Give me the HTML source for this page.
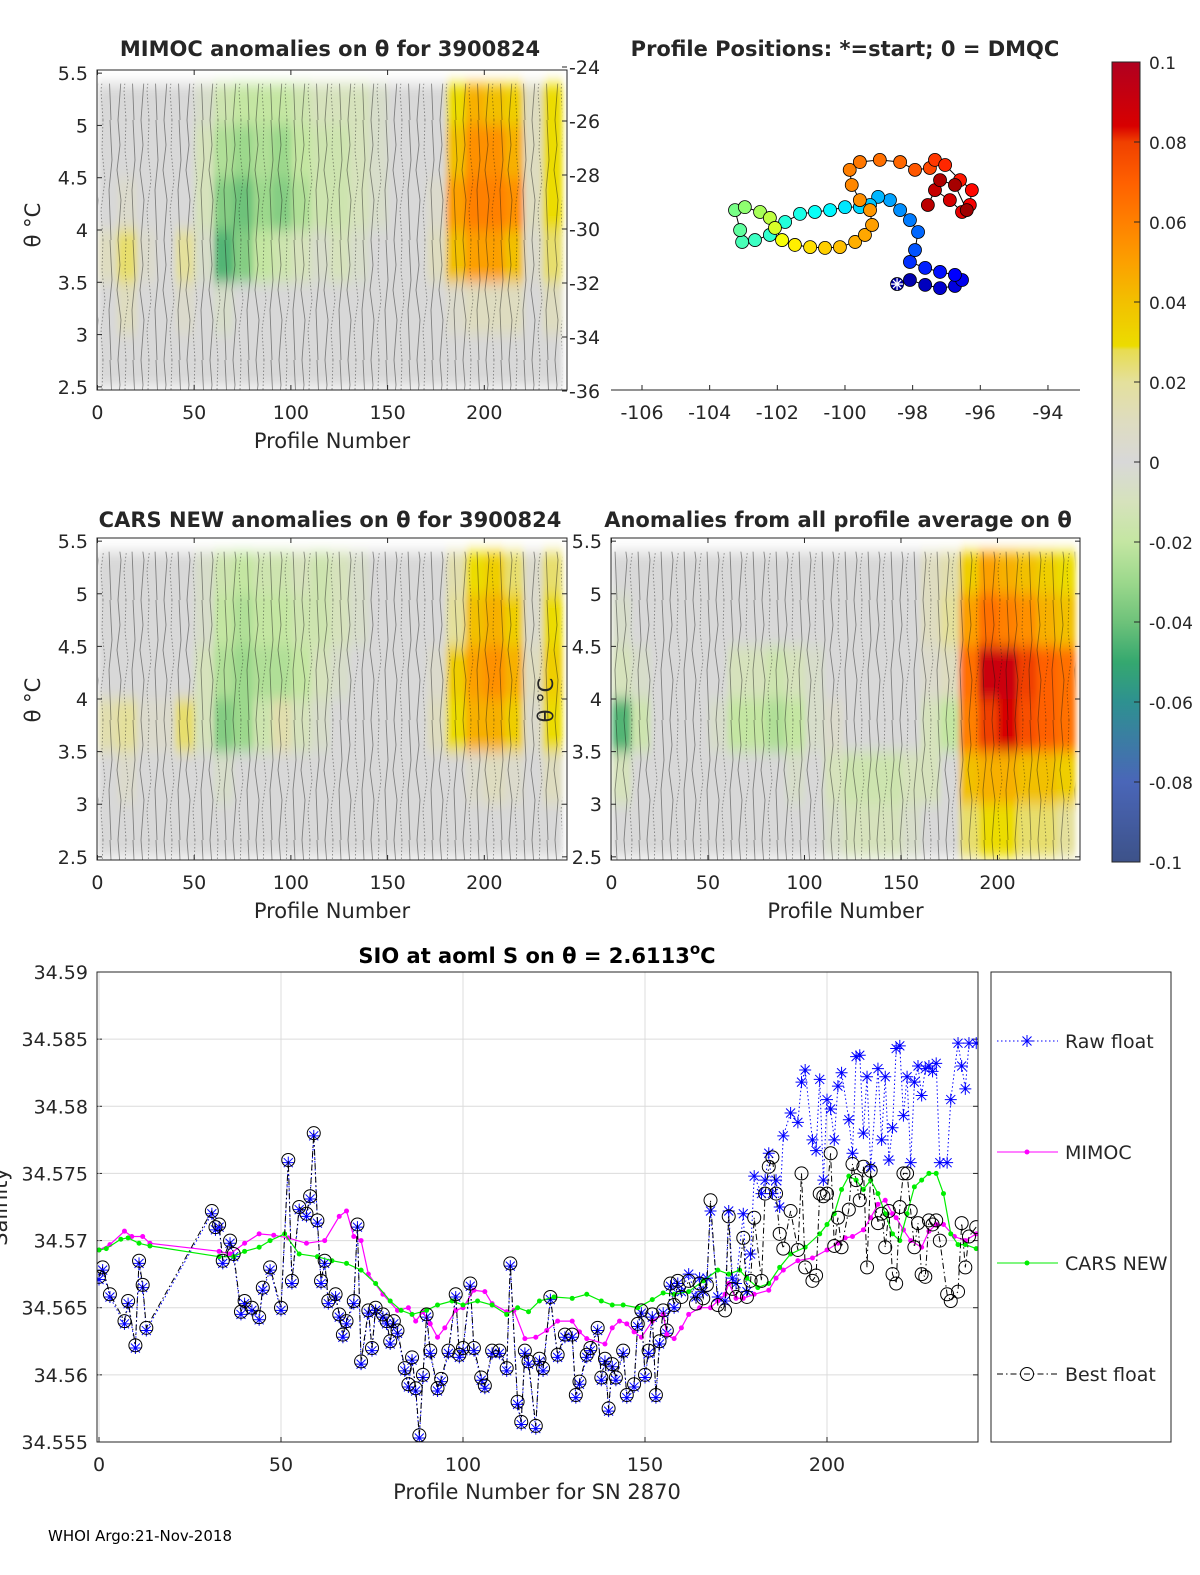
<!DOCTYPE html>
<html><head><meta charset="utf-8"><style>
html,body{margin:0;padding:0;background:#fff;}
svg{display:block;font-family:"DejaVu Sans","Liberation Sans",sans-serif;}
</style></head><body>
<svg id="fig" width="1200" height="1575" viewBox="0 0 1200 1575" xmlns="http://www.w3.org/2000/svg">
<defs>
<clipPath id="cp1"><rect x="97" y="70" width="470" height="320"/></clipPath>
<clipPath id="cp2"><rect x="97" y="538" width="470" height="322"/></clipPath>
<clipPath id="cp3"><rect x="611" y="538" width="469" height="322"/></clipPath>
<clipPath id="cp4"><rect x="97" y="972" width="881" height="470"/></clipPath>
<filter id="soft" x="-5%" y="-5%" width="110%" height="110%"><feGaussianBlur stdDeviation="3 7"/></filter>
<pattern id="contours" width="23" height="120" patternUnits="userSpaceOnUse">
<path d="M3,0 L5,25 L2,50 L6,80 L3,120" fill="none" stroke="#111" stroke-width="0.9"/>
<path d="M11,0 L10,30 L13,60 L9,90 L11,120" fill="none" stroke="#111" stroke-width="0.9" stroke-dasharray="1.5 2"/>
<path d="M18,0 L20,40 L17,70 L19,120" fill="none" stroke="#111" stroke-width="0.9"/>
</pattern>
<linearGradient id="cbar" x1="0" y1="1" x2="0" y2="0">
<stop offset="0" stop-color="#3d5289"/><stop offset="0.1" stop-color="#4a66b8"/><stop offset="0.2" stop-color="#2e9190"/><stop offset="0.25" stop-color="#35a86f"/><stop offset="0.3" stop-color="#6ec27a"/><stop offset="0.35" stop-color="#9cd88c"/><stop offset="0.4" stop-color="#c4e6a2"/><stop offset="0.45" stop-color="#d6e2bc"/><stop offset="0.5" stop-color="#d8d8d8"/><stop offset="0.55" stop-color="#dedcc0"/><stop offset="0.6" stop-color="#e4e09c"/><stop offset="0.64" stop-color="#e8dc50"/><stop offset="0.645" stop-color="#ecdc00"/><stop offset="0.7" stop-color="#f2c000"/><stop offset="0.75" stop-color="#fca000"/><stop offset="0.8" stop-color="#ff8000"/><stop offset="0.85" stop-color="#ff6000"/><stop offset="0.9" stop-color="#f04000"/><stop offset="0.92" stop-color="#d80000"/><stop offset="1" stop-color="#b00020"/>
</linearGradient>
</defs>
<g id="root"></g>
<text x="48" y="1541" font-size="15" fill="#000">WHOI Argo:21-Nov-2018</text>
</svg>
<script>
const heatProfileEdges = [0,10,20,30,40,50,60,70,80,90,100,110,120,130,140,150,160,170,180,190,200,210,220,230,240];
const heatThetaEdges = [5.4,5.0,4.5,4.0,3.5,3.0,2.5];
const mimocAnom = [
[0,0,0,0,0,-0.005,-0.015,-0.02,-0.02,-0.02,-0.015,-0.01,-0.01,-0.01,-0.005,0,0,0,0.03,0.045,0.04,0.035,0.01,0.03],
[0,0,0,0,0,-0.01,-0.025,-0.03,-0.025,-0.03,-0.02,-0.015,-0.015,-0.01,-0.005,0,0,0,0.04,0.055,0.055,0.045,0.01,0.03],
[0,0.005,0,0,0,-0.01,-0.035,-0.04,-0.03,-0.035,-0.025,-0.015,-0.015,-0.01,-0.005,0,0,0.005,0.05,0.06,0.06,0.055,0.01,0.03],
[0.01,0.025,0.005,0,0.02,-0.005,-0.045,-0.035,-0.02,-0.015,-0.01,-0.005,-0.01,-0.005,0,0,0,0.01,0.04,0.05,0.05,0.04,0.005,0.025],
[0,0.01,0,0,0.005,0,-0.005,0,0,0,0,0,0,0,0,0,0,0,0.005,0.01,0.01,0.01,0,0.01],
[0,0,0,0,0,0,0,0,0,0,0,0,0,0,0,0,0,0,0,0,0,0,0,0]];
const carsAnom = [
[0,0,0,0,0,-0.005,-0.015,-0.02,-0.015,-0.015,-0.01,-0.015,-0.01,-0.005,0,0,0,0,0.015,0.03,0.035,0.025,0.005,0.025],
[0,0,0,0,0,-0.005,-0.02,-0.025,-0.02,-0.02,-0.015,-0.015,-0.01,-0.005,0,0,0,0,0.02,0.04,0.045,0.035,0.005,0.03],
[0,0,0,0,0,-0.01,-0.025,-0.03,-0.025,-0.025,-0.02,-0.01,-0.005,0,0,0,0,0.005,0.035,0.05,0.055,0.045,0.01,0.035],
[0.015,0.02,0.005,0.005,0.025,-0.01,-0.035,-0.03,-0.015,0.015,-0.01,-0.005,0,0,0,0,0,0.01,0.03,0.045,0.045,0.035,0.005,0.03],
[0,0.005,0,0,0,0,-0.005,0,0,0,0,0,0,0,0,0,0,0,0,0.005,0.01,0.005,0,0.01],
[0,0,0,0,0,0,0,0,0,0,0,0,0,0,0,0,0,0,0,0,0,0,0,0]];
const allAvgAnom = [
[0,0,0,0,0,0,0,0,0,0,0,0,0,0,0,0,0.01,0.015,0.035,0.05,0.045,0.04,0.035,0.03],
[-0.005,0,0,0,0,0,0,0,0,0,0,0,0,0,0,0,0.01,0.02,0.05,0.065,0.06,0.055,0.045,0.04],
[-0.01,-0.005,0,0,0,0,-0.01,-0.01,-0.015,-0.01,-0.005,0,0,0,0,0,0.005,0.01,0.065,0.09,0.09,0.08,0.07,0.065],
[-0.045,-0.015,0,0,0,-0.005,-0.02,-0.02,-0.025,-0.02,-0.005,0.005,0,0,0,0,-0.01,-0.02,0.06,0.08,0.085,0.075,0.07,0.065],
[-0.01,0,0,0,0,0,0,0,0,-0.005,0,-0.01,-0.015,-0.015,-0.015,-0.01,-0.01,0,0.04,0.045,0.045,0.04,0.04,0.035],
[0,0,0,0,0,0,0,0,0,0,0,-0.005,-0.01,-0.01,-0.01,-0.005,0,0,0.025,0.03,0.03,0.025,0.025,0.02]];

const trackLon = [-98.46,-98.08,-97.63,-97.19,-96.75,-96.54,-96.75,-97.19,-97.63,-98.08,-97.93,-97.84,-98.08,-98.37,-98.67,-99.02,-99.26,-99.56,-100.0,-100.44,-100.89,-101.33,-101.77,-102.22,-102.66,-103.04,-103.10,-103.25,-102.96,-102.51,-102.22,-102.07,-101.86,-101.48,-101.03,-100.59,-100.15,-99.70,-99.41,-99.20,-99.26,-99.56,-99.80,-99.86,-99.56,-98.97,-98.37,-97.93,-97.49,-97.34,-97.04,-96.60,-96.25,-96.31,-96.54,-96.90,-97.34,-97.55,-97.19,-96.75,-96.40];
const trackLat = [-32.04,-31.89,-32.07,-32.19,-32.11,-31.89,-31.70,-31.59,-31.44,-31.22,-30.78,-30.11,-29.67,-29.30,-28.93,-28.81,-29.11,-29.19,-29.19,-29.30,-29.37,-29.44,-29.74,-30.22,-30.41,-30.48,-30.04,-29.30,-29.19,-29.37,-29.59,-29.96,-30.41,-30.59,-30.67,-30.70,-30.67,-30.48,-30.22,-29.85,-29.30,-28.93,-28.37,-27.81,-27.52,-27.44,-27.52,-27.81,-27.74,-27.44,-27.63,-28.19,-28.56,-29.11,-29.37,-28.93,-28.56,-29.11,-28.19,-28.37,-29.30];
const trackProfile = [0,4,8,12,16,20,24,28,32,36,45,50,55,60,65,70,74,78,82,86,90,94,97,100,103,106,112,118,124,130,136,142,150,156,160,164,168,172,174,176,178,180,182,184,186,188,190,194,198,202,206,210,214,218,222,226,230,233,236,238,240];

const profiles = [0,1,3,7,8,10,11,12,13,31,32,33,34,36,37,39,40,42,44,45,47,50,52,53,55,57,58,59,60,61,62,63,65,66,67,68,70,71,72,74,75,76,78,79,80,81,82,84,85,86,87,88,89,90,91,93,94,96,98,99,100,102,103,105,106,108,110,112,113,115,116,117,118,120,121,122,124,126,128,130,131,132,134,135,137,138,139,140,141,142,144,145,147,148,149,150,151,152,153,154,155,156,157,158,159,160,162,164,165,166,167,168,170,172,173,174,175,177,178,179,180,182,183,184,185,186,187,188,190,192,193,194,196,197,198,199,200,201,202,203,204,206,207,208,209,210,211,212,214,215,216,217,218,219,220,221,222,223,224,225,226,227,228,229,230,231,233,234,236,237,238,239,241];
const bestFloat = [34.5673,34.568,34.566,34.564,34.5655,34.5622,34.5685,34.5667,34.5635,34.5722,34.571,34.5712,34.5685,34.570,34.569,34.5647,34.5655,34.565,34.5643,34.5665,34.568,34.565,34.576,34.567,34.5725,34.572,34.5733,34.578,34.5715,34.567,34.5685,34.5655,34.566,34.5645,34.563,34.564,34.5655,34.5712,34.561,34.5648,34.562,34.565,34.5645,34.564,34.5625,34.564,34.5633,34.5605,34.5593,34.5613,34.559,34.5555,34.560,34.5645,34.5618,34.559,34.5597,34.5618,34.566,34.5615,34.562,34.5668,34.562,34.5598,34.5592,34.5618,34.5618,34.5605,34.5683,34.558,34.5565,34.5618,34.561,34.5562,34.5612,34.5605,34.5658,34.5615,34.563,34.563,34.5585,34.5595,34.5615,34.562,34.5635,34.5598,34.5612,34.5575,34.5608,34.5598,34.5618,34.5585,34.5593,34.5638,34.5648,34.560,34.5618,34.5645,34.5585,34.5625,34.5648,34.5633,34.5668,34.5652,34.567,34.5658,34.567,34.5653,34.5668,34.5657,34.5667,34.573,34.5652,34.5648,34.5718,34.5664,34.5658,34.5702,34.5658,34.567,34.5717,34.567,34.5735,34.5755,34.5762,34.5735,34.5705,34.5694,34.5722,34.5693,34.575,34.568,34.567,34.5674,34.5735,34.5733,34.5735,34.5765,34.5696,34.5717,34.5695,34.5723,34.5757,34.5745,34.5730,34.5755,34.5680,34.5752,34.5713,34.5720,34.5695,34.5722,34.5675,34.5668,34.5725,34.5750,34.5750,34.5722,34.5695,34.5713,34.5675,34.5673,34.5715,34.5712,34.5715,34.5700,34.5660,34.5655,34.5662,34.5713,34.5680,34.5703,34.5710];
const rawFloat = [34.5671,34.5678,34.5658,34.5638,34.5653,34.562,34.5683,34.5665,34.5633,34.572,34.5708,34.571,34.5683,34.5698,34.5688,34.5645,34.5653,34.5648,34.5641,34.5663,34.5678,34.5648,34.5758,34.5668,34.5723,34.5718,34.5731,34.5778,34.5713,34.5668,34.5683,34.5653,34.5658,34.5643,34.5628,34.5638,34.5653,34.571,34.5608,34.5646,34.5618,34.5648,34.5643,34.5638,34.5623,34.5638,34.5631,34.5603,34.5591,34.5611,34.5588,34.5553,34.5598,34.5643,34.5616,34.5588,34.5595,34.5616,34.5658,34.5613,34.5618,34.5666,34.5618,34.5596,34.559,34.5616,34.5616,34.5603,34.5681,34.5578,34.5563,34.5616,34.5608,34.556,34.561,34.5603,34.5656,34.5613,34.5628,34.5628,34.5583,34.5593,34.5613,34.5618,34.5633,34.5596,34.561,34.5573,34.5606,34.5596,34.5616,34.5583,34.5591,34.5636,34.5646,34.5598,34.5616,34.5643,34.5583,34.5623,34.5646,34.5631,34.5666,34.565,34.5668,34.5662,34.5675,34.5658,34.5672,34.5662,34.5672,34.5722,34.5658,34.5655,34.5722,34.5672,34.5668,34.5720,34.5662,34.5690,34.5748,34.5735,34.5745,34.5765,34.5735,34.5745,34.5725,34.5778,34.5795,34.5788,34.5818,34.5827,34.5775,34.5767,34.5820,34.5745,34.5805,34.5798,34.5775,34.5815,34.5825,34.5790,34.5765,34.5837,34.5838,34.5780,34.5822,34.5755,34.5828,34.5775,34.5822,34.5760,34.5784,34.5843,34.5845,34.5793,34.5822,34.5758,34.5818,34.5830,34.5808,34.5828,34.5830,34.5826,34.5832,34.5758,34.5758,34.5805,34.5847,34.5830,34.5813,34.5847,34.5847];
const mimocProfiles = [0,3,7,9,12,14,33,36,40,44,48,52,57,62,66,68,70,72,74,78,82,85,87,89,91,93,95,98,100,103,106,108,112,114,117,120,123,126,130,132,134,139,141,143,145,147,149,152,155,156,158,160,162,165,168,170,172,173,175,177,180,184,186,188,192,196,200,203,205,207,210,212,214,216,218,219,221,223,226,228,230,232,235,238,241];
const mimocSal = [34.5693,34.5697,34.5707,34.5703,34.5703,34.5698,34.5692,34.5690,34.5698,34.5705,34.5704,34.5702,34.5698,34.5700,34.5718,34.5722,34.5703,34.5700,34.5675,34.5660,34.5648,34.5650,34.5640,34.5647,34.5638,34.5628,34.5635,34.5648,34.5650,34.5663,34.5662,34.5653,34.5647,34.5648,34.5627,34.5628,34.5633,34.5640,34.5640,34.5632,34.5627,34.5623,34.5635,34.5640,34.5638,34.5632,34.5628,34.5640,34.5645,34.5630,34.5627,34.5635,34.5645,34.5650,34.5650,34.5655,34.5660,34.5668,34.5657,34.5657,34.5660,34.5663,34.5672,34.5678,34.5685,34.5687,34.5693,34.5698,34.5702,34.5703,34.5708,34.5717,34.5727,34.5730,34.5720,34.5717,34.5708,34.5700,34.5695,34.5707,34.5712,34.5712,34.5703,34.5700,34.5705];
const carsProfiles = [0,2,6,8,11,14,33,37,40,44,47,51,55,60,64,68,72,76,80,83,86,90,93,97,100,104,108,112,115,118,121,125,130,134,138,141,144,148,152,155,158,162,166,170,173,176,178,181,184,187,190,194,198,200,202,204,206,208,210,212,214,216,218,220,222,224,226,228,230,232,234,236,238,241];
const carsSal = [34.5693,34.5694,34.5701,34.5702,34.5698,34.5696,34.5688,34.5688,34.5692,34.5695,34.5700,34.5705,34.5690,34.5688,34.5685,34.5683,34.5678,34.5668,34.5655,34.5648,34.5645,34.5648,34.5652,34.5655,34.5652,34.5655,34.5652,34.5645,34.5650,34.5647,34.5655,34.5658,34.5657,34.5660,34.5655,34.5652,34.5652,34.5650,34.5656,34.5661,34.5660,34.5662,34.5670,34.5678,34.5675,34.5678,34.5672,34.5665,34.5668,34.5680,34.5690,34.5695,34.5705,34.5712,34.5720,34.5738,34.5748,34.5745,34.5738,34.5745,34.5735,34.5720,34.5705,34.5700,34.5720,34.5740,34.5745,34.5750,34.5750,34.5735,34.5705,34.5697,34.5697,34.5694];
const salTicks = [34.555,34.56,34.565,34.57,34.575,34.58,34.585,34.59];
const salTickLabels = ["34.555","34.56","34.565","34.57","34.575","34.58","34.585","34.59"];
const profTicks = [0,50,100,150,200];

const NS = "http://www.w3.org/2000/svg";
const root = document.getElementById('root');
function mk(tag, attrs, parent){const e=document.createElementNS(NS,tag);for(const k in attrs)e.setAttribute(k,attrs[k]);(parent||root).appendChild(e);return e;}
function txt(x,y,s,size,anchor,parent,weight){const t=mk('text',{x:x,y:y,'font-size':size,'text-anchor':anchor||'start',fill:'#262626'},parent);if(weight)t.setAttribute('font-weight',weight);t.textContent=s;return t;}

const cmapStops=[[-0.1,[61,82,137]],[-0.08,[74,102,184]],[-0.06,[46,145,144]],[-0.05,[53,168,111]],[-0.04,[110,194,122]],[-0.03,[156,216,140]],[-0.02,[196,230,162]],[-0.01,[214,226,188]],[0,[216,216,216]],[0.01,[222,220,192]],[0.02,[228,224,156]],[0.028,[232,220,80]],[0.03,[236,220,0]],[0.04,[242,192,0]],[0.05,[252,160,0]],[0.06,[255,128,0]],[0.07,[255,96,0]],[0.08,[240,64,0]],[0.085,[216,0,0]],[0.1,[176,0,32]]];
function cmap(v){v=Math.max(-0.1,Math.min(0.1,v));for(let i=1;i<cmapStops.length;i++){if(v<=cmapStops[i][0]){const a=cmapStops[i-1],b=cmapStops[i];const t=(v-a[0])/(b[0]-a[0]);const c=a[1].map((x,j)=>Math.round(x+(b[1][j]-x)*t));return 'rgb('+c.join(',')+')';}}return 'rgb(176,0,32)';}
function jet(t){const r=Math.max(0,Math.min(1,1.5-Math.abs(4*t-3))),g=Math.max(0,Math.min(1,1.5-Math.abs(4*t-2))),b=Math.max(0,Math.min(1,1.5-Math.abs(4*t-1)));return 'rgb('+[r,g,b].map(x=>Math.round(x*255)).join(',')+')';}

function heatPanel(name, data, x0, y0, w, h, clip, leftLabels, rightAxis){
  const g=mk('g',{});
  const X=p=>x0+(p+0.5)*w/243, Y=t=>y0+(5.53-t)*h/3.06;
  const cg=mk('g',{'clip-path':'url(#'+clip+')'},g);
  const hg=mk('g',{filter:'url(#soft)'},cg);
  for(let r=0;r<data.length;r++)for(let c=0;c<data[r].length;c++){
    const xa=X(heatProfileEdges[c]),xb=X(heatProfileEdges[c+1]),ya=Y(heatThetaEdges[r]),yb=Y(heatThetaEdges[r+1]);
    const cell=mk('rect',{x:xa,y:ya,width:xb-xa+0.5,height:yb-ya+0.5,fill:cmap(data[r][c])},hg);
    
    
  }
  mk('rect',{x:X(0),y:Y(5.4),width:X(240)-X(0),height:Y(2.5)-Y(5.4)+5,fill:'url(#contours)',opacity:0.45},cg);
  mk('rect',{x:x0,y:y0,width:w,height:h,fill:'none',stroke:'#262626','stroke-width':1},g);
  profTicks.forEach(p=>{const x=X(p)-0.5;mk('line',{x1:x,x2:x,y1:y0+h,y2:y0+h-5,stroke:'#262626'},g);mk('line',{x1:x,x2:x,y1:y0,y2:y0+5,stroke:'#262626'},g);txt(x,y0+h+29,String(p),19,'middle',g);});
  [2.5,3,3.5,4,4.5,5,5.5].forEach(t=>{const y=Y(t);mk('line',{x1:x0,x2:x0+5,y1:y,y2:y,stroke:'#262626'},g);if(!rightAxis)mk('line',{x1:x0+w,x2:x0+w-5,y1:y,y2:y,stroke:'#262626'},g);txt(leftLabels,y+7,String(t),19,'end',g);});
  txt(x0+w/2,y0+h+58,'Profile Number',21,'middle',g);
  return {g,X,Y};
}
heatPanel('mimoc-anomaly-panel',mimocAnom,97,70,470,320,'cp1',88,true);
heatPanel('cars-anomaly-panel',carsAnom,97,538,470,322,'cp2',88,false);
heatPanel('allavg-anomaly-panel',allAvgAnom,611,538,469,322,'cp3',602,false);
const latY=l=>67+(-24-l)*27;
[-24,-26,-28,-30,-32,-34,-36].forEach(l=>{const y=latY(l);mk('line',{x1:567,x2:562,y1:y,y2:y,stroke:'#262626'});txt(569,y+7,String(l),19,'start');});
function ylab(x,y){const t=mk('text',{x:0,y:0,'font-size':21,fill:'#262626','text-anchor':'middle',transform:`translate(${x},${y}) rotate(-90)`});t.textContent='\u03b8 \u00b0C';}
ylab(40,225);ylab(40,700);ylab(553,700);
function title(x,y,s,name){const t=txt(x,y,s,21,'middle',null,'bold');}
title(330,56,'MIMOC anomalies on \u03b8  for 3900824','mimoc-title');
title(845,56,'Profile Positions: *=start; 0 = DMQC','map-title');
title(330,527,'CARS NEW anomalies on \u03b8 for 3900824','cars-title');
title(838,527,'Anomalies from all profile average on \u03b8','allavg-title');

const mapG=mk('g',{});
const lonX=l=>642+(l+106)*33.83;
mk('line',{x1:611,x2:1080,y1:390,y2:390,stroke:'#262626'},mapG);
[-106,-104,-102,-100,-98,-96,-94].forEach(l=>{const x=lonX(l);mk('line',{x1:x,x2:x,y1:390,y2:385,stroke:'#262626'},mapG);txt(x,419,String(l),19,'middle',mapG);});
let dpath='';trackLon.forEach((l,i)=>{dpath+=(i?'L':'M')+lonX(l)+','+latY(trackLat[i]);});
mk('path',{d:dpath,fill:'none',stroke:'#000','stroke-width':1},mapG);
trackLon.forEach((l,i)=>{const c=mk('circle',{cx:lonX(l),cy:latY(trackLat[i]),r:6.5,fill:jet(0.03+0.94*trackProfile[i]/240),stroke:'#000','stroke-width':0.8},mapG);
  
  });
const sx=lonX(trackLon[0]),sy=latY(trackLat[0]);
mk('path',{d:`M${sx-6},${sy}H${sx+6}M${sx},${sy-6}V${sy+6}M${sx-4},${sy-4}L${sx+4},${sy+4}M${sx-4},${sy+4}L${sx+4},${sy-4}`,stroke:'#fff','stroke-width':1.3},mapG);

const cb=mk('g',{});
mk('rect',{x:1112,y:62,width:28,height:800,fill:'url(#cbar)',stroke:'#262626'},cb);
[0.1,0.08,0.06,0.04,0.02,0,-0.02,-0.04,-0.06,-0.08,-0.1].forEach(v=>{const y=62+(0.1-v)*4000;mk('line',{x1:1134,x2:1140,y1:y,y2:y,stroke:'#262626'},cb);txt(1149,y+7,String(v),17,'start',cb);});

const sg=mk('g',{});
const SX=p=>99+p*3.64, SY=v=>972+(34.59-v)/0.035*470;
salTicks.forEach((v,i)=>{const y=SY(v);mk('line',{x1:97,x2:978,y1:y,y2:y,stroke:'#dcdcdc'},sg);mk('line',{x1:97,x2:102,y1:y,y2:y,stroke:'#262626'},sg);mk('line',{x1:978,x2:973,y1:y,y2:y,stroke:'#262626'},sg);txt(88,y+7,salTickLabels[i],19,'end',sg);});
profTicks.forEach(p=>{const x=SX(p);mk('line',{x1:x,x2:x,y1:972,y2:1442,stroke:'#dcdcdc'},sg);mk('line',{x1:x,x2:x,y1:1442,y2:1437,stroke:'#262626'},sg);txt(x,1471,String(p),19,'middle',sg);});
const pc=mk('g',{'clip-path':'url(#cp4)'},sg);
function lineD(xs,ys){return xs.map((p,i)=>(i?'L':'M')+SX(p).toFixed(1)+','+SY(ys[i]).toFixed(1)).join('');}
const rawL=mk('path',{d:lineD(profiles,rawFloat),fill:'none',stroke:'#0000ff','stroke-width':1,'stroke-dasharray':'1.5 2.5'},pc);

profiles.forEach((p,i)=>{const x=SX(p),y=SY(rawFloat[i]);const s=mk('path',{d:`M${x-6},${y}H${x+6}M${x},${y-6}V${y+6}M${x-4.5},${y-4.5}L${x+4.5},${y+4.5}M${x-4.5},${y+4.5}L${x+4.5},${y-4.5}`,stroke:'#0000ff','stroke-width':1},pc);
  
  });
function dotLine(xs,ys,col,name){const l=mk('path',{d:lineD(xs,ys),fill:'none',stroke:col,'stroke-width':1.2},pc);
  xs.forEach((p,i)=>{const d=mk('circle',{cx:SX(p),cy:SY(ys[i]),r:2.5,fill:col},pc);
    
    });}
dotLine(mimocProfiles,mimocSal,'#ff00ff','mimoc-line');
dotLine(carsProfiles,carsSal,'#00ee00','cars-line');
const bestL=mk('path',{d:lineD(profiles,bestFloat),fill:'none',stroke:'#000','stroke-width':1,'stroke-dasharray':'6 3 1.5 3'},pc);

profiles.forEach((p,i)=>{const c=mk('circle',{cx:SX(p),cy:SY(bestFloat[i]),r:6.5,fill:'none',stroke:'#000','stroke-width':1},pc);
  
  });
mk('rect',{x:97,y:972,width:881,height:470,fill:'none',stroke:'#262626'},sg);
const st=mk('text',{x:537,y:963,'font-size':21,'font-weight':'bold','text-anchor':'middle',fill:'#000'},sg);

st.appendChild(document.createTextNode('SIO at aoml S on \u03b8 = 2.6113'));
const sup=mk('tspan',{dy:-9,'font-size':15},st);sup.textContent='o';
const cc=mk('tspan',{dy:9},st);cc.textContent='C';
const xl=txt(537,1499,'Profile Number for SN 2870',21,'middle',sg);
const yl=mk('text',{x:0,y:0,'font-size':21,fill:'#262626','text-anchor':'middle',transform:'translate(7,1207) rotate(-90)'},sg);yl.textContent='Salinity';
const lg=mk('g',{});
mk('rect',{x:991,y:972,width:180,height:470,fill:'#fff',stroke:'#262626'},lg);
function legendEntry(y,label,col,dash,marker,name){const e=mk('g',{},lg);
  mk('line',{x1:997,x2:1058,y1:y,y2:y,stroke:col,'stroke-dasharray':dash||'none'},e);
  const x=1027;
  if(marker==='star')mk('path',{d:`M${x-6},${y}H${x+6}M${x},${y-6}V${y+6}M${x-4.5},${y-4.5}L${x+4.5},${y+4.5}M${x-4.5},${y+4.5}L${x+4.5},${y-4.5}`,stroke:col},e);
  else if(marker==='dot')mk('circle',{cx:x,cy:y,r:2.5,fill:col},e);
  else mk('circle',{cx:x,cy:y,r:6.5,fill:'none',stroke:col},e);
  txt(1065,y+7,label,19,'start',e);}
legendEntry(1041,'Raw float','#0000ff','1.5 2.5','star','legend-raw-float');
legendEntry(1152,'MIMOC','#ff00ff','','dot','legend-mimoc');
legendEntry(1263,'CARS NEW','#00ee00','','dot','legend-cars-new');
legendEntry(1374,'Best float','#000','6 3 1.5 3','circle','legend-best-float');
</script>
</body></html>
